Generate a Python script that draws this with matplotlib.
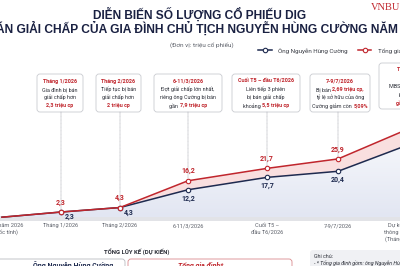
import matplotlib
matplotlib.use('Agg')
import matplotlib.pyplot as plt
import numpy as np
from matplotlib.patches import FancyBboxPatch, Rectangle
from matplotlib.colors import LinearSegmentedColormap

# ---- data ----
periods = ['Đầu năm 2026\n(Mốc tính)', 'Tháng 1/2026', 'Tháng 2/2026', '6-11/3/2026',
           'Cuối T5 –\nđầu T6/2026', '7-9/7/2026', 'Dự kiến\nthông báo\n(Tháng 8)']
family_total = [0, 2.3, 4.3, 16.2, 21.7, 25.9, 40.5]
mr_cuong = [0, 2.3, 4.3, 12.2, 17.7, 20.4, 33.3]
family_labels = ['', '2,3', '4,3', '16,2', '21,7', '25,9', '']
cuong_labels = ['', '2,3', '4,3', '12,2', '17,7', '20,4', '']

RED = '#c0262d'
NAVY = '#1e2a4f'
DARK = '#2a2d36'
GRAY = '#5c6069'

callouts = [
    [[('Tháng 1/2026', RED, True)], [('Gia đình bị bán', DARK, False)],
     [('giải chấp hơn', DARK, False)], [('2,3 triệu cp', RED, True)]],
    [[('Tháng 2/2026', RED, True)], [('Tiếp tục bị bán', DARK, False)],
     [('giải chấp hơn', DARK, False)], [('2 triệu cp', RED, True)]],
    [[('6-11/3/2026', RED, True)], [('Đợt giải chấp lớn nhất,', DARK, False)],
     [('riêng ông Cường bị bán', DARK, False)], [('gần ', DARK, False), ('7,9 triệu cp', RED, True)]],
    [[('Cuối T5 – đầu T6/2026', RED, True)], [('Liên tiếp 3 phiên', DARK, False)],
     [('bị bán giải chấp', DARK, False)], [('khoảng ', DARK, False), ('5,5 triệu cp', RED, True)]],
    [[('7-9/7/2026', RED, True)], [('Bị bán ', DARK, False), ('2,69 triệu cp,', RED, True)],
     [('tỷ lệ sở hữu của ông', DARK, False)], [('Cường giảm còn ', DARK, False), ('5,09%', RED, True)]],
    [[('Tháng 8/2026', RED, True)], [('(dự kiến)', RED, False)], [('MBS & KBSV đăng ký', DARK, False)],
     [('bán giải chấp', DARK, False)], [('gần 13 triệu cp', RED, True)]],
]

# ---- layout (pixels) ----
slot_x = [2, 61, 120, 188, 267, 338, 415]
box_spans = [(37, 83, 74, 112), (96, 141, 74, 112), (154, 222, 74, 112),
             (232, 300, 74, 112), (310, 370, 74, 112), (379, 450, 63, 109)]
BASE_PX = 217.2
PX_PER_UNIT = 2.25
W, H = 400, 266

BODY = ['Roboto', 'DejaVu Sans']
TITLE = ['Liberation Sans Narrow', 'Liberation Sans', 'DejaVu Sans']

fig = plt.figure(figsize=(4, 2.66), dpi=100)
fig.patch.set_facecolor('white')
ax = fig.add_axes([0, 0, 1, 1])
ax.set_xlim(0, W)
ax.set_ylim(H, 0)
ax.axis('off')

cax = fig.add_axes([0, 0, 1, 1], zorder=2)
cax.patch.set_alpha(0)
cax.axis('off')

renderer = fig.canvas.get_renderer()


def rich_line(xc, y, parts, size):
    texts = []
    for s, c, b in parts:
        t = ax.text(0, y, s, color=c, fontweight='bold' if b else 'normal',
                    fontsize=size, ha='left', va='center', family=BODY)
        texts.append(t)
    widths = [t.get_window_extent(renderer).width for t in texts]
    x = xc - sum(widths) / 2
    for t, w in zip(texts, widths):
        t.set_x(x)
        x += w


def fit_text(t, target_w):
    w = t.get_window_extent(renderer).width
    t.set_fontsize(t.get_fontsize() * target_w / w)


# title
t1 = ax.text(200, 19, 'DIỄN BIẾN SỐ LƯỢNG CỔ PHIẾU DIG', ha='center', va='baseline',
             fontsize=10, fontweight='bold', color='#1a2142', family=TITLE)
fit_text(t1, 214)
t2 = ax.text(200, 32.5, 'BỊ BÁN GIẢI CHẤP CỦA GIA ĐÌNH CHỦ TỊCH NGUYỄN HÙNG CƯỜNG NĂM 2026',
             ha='center', va='baseline', fontsize=10, fontweight='bold', color='#1a2142', family=TITLE)
fit_text(t2, 455)
ax.text(371, 9.5, 'VNBUSINESS', ha='left', va='baseline', fontsize=7.5, color=RED,
        family=['Liberation Serif', 'DejaVu Serif'])
ax.text(202, 45, '(Đơn vị: triệu cổ phiếu)', ha='center', va='center', fontsize=4.6,
        color=GRAY, family=BODY)

# baseline band
ax.add_patch(Rectangle((0, 215.5), W, 5, color='#e2e3e7', lw=0, zorder=0))

# fills
grad = np.linspace(0, 1, 200).reshape(-1, 1)
cmap = LinearSegmentedColormap.from_list('under', ['#e2e6f2', '#f9fafd'])
im = cax.imshow(grad, extent=(0, W, 0, 40), origin='lower', cmap=cmap, aspect='auto', zorder=1)
under = cax.fill_between(slot_x, mr_cuong, 0, color='none', lw=0)
im.set_clip_path(under.get_paths()[0], cax.transData)
cax.fill_between(slot_x, mr_cuong, family_total, color='#f9dfdf', lw=0, zorder=1)
cax.set_xlim(0, W)
cax.set_ylim(-(H - BASE_PX) / PX_PER_UNIT, BASE_PX / PX_PER_UNIT)

# lines
mk = dict(marker='o', markersize=3.2, markerfacecolor='white', markeredgewidth=0.8,
          markevery=[1, 2, 3, 4, 5, 6])
l1, = cax.plot(slot_x, mr_cuong, color=NAVY, lw=1.1, zorder=3, label='Ông Nguyễn Hùng Cường', **mk)
l2, = cax.plot(slot_x, family_total, color=RED, lw=1.1, zorder=4, label='Tổng gia đình*', **mk)

# value labels
for x, v, s in zip(slot_x, family_total, family_labels):
    if s:
        cax.annotate(s, (x, v), xytext=(0, 4), textcoords='offset points', ha='center', va='bottom',
                     fontsize=5, fontweight='bold', color=RED, family=BODY, zorder=5)
for i, (x, v, s) in enumerate(zip(slot_x, mr_cuong, cuong_labels)):
    if s:
        dx, dy = (6, -0.8) if i < 3 else (0, -3.5)
        cax.annotate(s, (x, v), xytext=(dx, dy), textcoords='offset points', ha='center', va='top',
                     fontsize=5, fontweight='bold', color=NAVY, family=BODY, zorder=5)

# callouts
for (x0, x1, y0, y1), lines, px, v in zip(box_spans, callouts, slot_x[1:], family_total[1:]):
    ax.add_patch(FancyBboxPatch((x0, y0), x1 - x0, y1 - y0, boxstyle='round,pad=0,rounding_size=3',
                                fc='white', ec='#c9cbd0', lw=0.6, zorder=2))
    step = (y1 - y0 - 13) / (len(lines) - 1)
    for k, parts in enumerate(lines):
        rich_line((x0 + x1) / 2, y0 + 7 + k * step, parts, 3.9)
    cax.annotate('', xy=(px, v), xytext=(px, y1), textcoords=ax.transData,
                 arrowprops=dict(arrowstyle='-', ls=(0, (1, 1)), color='#b5b7bd', lw=0.5,
                                 shrinkA=0, shrinkB=1.5), zorder=2)

# x labels
for x, p in zip(slot_x, periods):
    xl = min(max(x, 5), 397)
    ax.text(xl, 223, p, ha='center', va='top', fontsize=4.1, color=GRAY, family=BODY,
            linespacing=1.35)

# legend
cax.legend(handles=[l1, l2], loc='center left', bbox_to_anchor=(258 / W, 1 - 50.5 / H), ncol=2,
           frameon=False, prop={'family': BODY, 'size': 4.5}, handlelength=2.2,
           handletextpad=1.0, columnspacing=1.6, borderpad=0, borderaxespad=0,
           labelcolor='#3a3d45')

# bottom section
ax.text(137, 252, 'TỔNG LŨY KẾ (DỰ KIẾN)', ha='center', va='center', fontsize=4.3,
        fontweight='bold', color=DARK, family=BODY)
ax.add_patch(FancyBboxPatch((-10, 259), 135, 20, boxstyle='round,pad=0,rounding_size=3',
                            fc='white', ec='#b9bbc0', lw=0.6))
ax.text(73, 265.5, 'Ông Nguyễn Hùng Cường', ha='center', va='center', fontsize=5,
        fontweight='bold', color=NAVY, family=BODY)
ax.add_patch(FancyBboxPatch((128, 259), 164, 20, boxstyle='round,pad=0,rounding_size=3',
                            fc='white', ec='#d98a8d', lw=0.6))
ax.text(201, 265.5, 'Tổng gia đình*', ha='center', va='center', fontsize=5,
        fontweight='bold', style='italic', color=RED, family=BODY)
ax.add_patch(FancyBboxPatch((310, 250), 120, 30, boxstyle='round,pad=0,rounding_size=3',
                            fc='#f0f1f4', ec='none'))
ax.text(314, 256, 'Ghi chú:', ha='left', va='center', fontsize=3.8, color=DARK, family=BODY)
ax.text(314, 263, '- * Tổng gia đình gồm: ông Nguyễn Hùng Cường và người thân', ha='left',
        va='center', fontsize=3.8, style='italic', color=DARK, family=BODY)

fig.savefig('out.png', dpi=100)
